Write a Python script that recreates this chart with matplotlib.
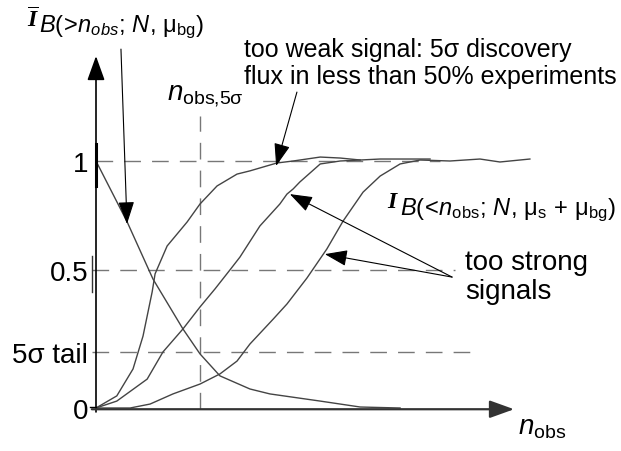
import numpy as np
import matplotlib
matplotlib.use('Agg')
import matplotlib.pyplot as plt

plt.rcParams['font.family'] = ['Liberation Sans', 'DejaVu Sans']
plt.rcParams['mathtext.fontset'] = 'custom'
plt.rcParams['mathtext.rm'] = 'Liberation Sans'
plt.rcParams['mathtext.it'] = 'Liberation Sans:italic'
plt.rcParams['mathtext.bf'] = 'Liberation Serif:bold:italic'

######
# schematic curves, x = n_obs (arb. units), y = probability (schematic scale)
bg_n = [0, 0.75, 1.37, 2.09, 2.5, 2.98, 3.70, 4.18, 5.39, 6.35, 7.31]
bg_p = [1.0, 0.753, 0.522, 0.320, 0.219, 0.130, 0.077, 0.057, 0.028, 0.004, 0.0]

sig1_n = [0, 0.50, 0.89, 1.13, 1.35, 1.42, 1.71, 2.19, 2.5, 2.91, 3.39, 3.70, 4.35, 4.74, 5.39, 5.87, 6.35]
sig1_p = [0, 0.049, 0.158, 0.291, 0.470, 0.543, 0.656, 0.753, 0.826, 0.899, 0.947, 0.960, 0.992, 1.0, 1.016, 1.012, 1.004]

sig2_n = [0, 0.50, 1.23, 1.61, 2.09, 2.5, 2.86, 3.22, 3.46, 3.94, 4.42, 4.59, 4.74, 4.90, 5.39, 5.87, 6.83, 8.03]
sig2_p = [0, 0.028, 0.117, 0.227, 0.320, 0.409, 0.482, 0.559, 0.611, 0.737, 0.826, 0.866, 0.887, 0.915, 0.988, 1.0, 1.008, 1.008]

sig3_n = [0, 0.82, 1.30, 1.85, 2.5, 2.98, 3.39, 3.70, 4.26, 4.59, 5.07, 5.55, 5.94, 6.42, 6.83, 7.31,
          7.79, 8.51, 9.23, 9.71, 9.95, 10.43]
sig3_p = [0, 0.0, 0.016, 0.057, 0.097, 0.138, 0.190, 0.259, 0.360, 0.421, 0.526, 0.644, 0.757, 0.874, 0.939, 0.988,
          1.004, 1.0, 1.008, 0.996, 1.0, 1.008]

y_tick_pos = [0, 0.227, 0.559, 1.0]
y_tick_labels = ['0', '5σ tail', '0.5', '1']
n_5sigma = 2.5

######
fig = plt.figure(figsize=(6.21, 4.52), dpi=100)
ax = fig.add_axes([0, 0, 1, 1])
ax.set_xlim(-96/41.6, (621-96)/41.6)
ax.set_ylim((409-452)/247., 409/247.)
ax.axis('off')

DASH = dict(color='#777777', lw=1.0, ls=(0, (12, 8)))
CURVE = dict(color='#444444', lw=1.0)

# dashed guide lines
ax.plot([0, 8.27], [1.0, 1.0], **DASH)
ax.plot([-0.1, 8.63], [y_tick_pos[2]]*2, **DASH)
ax.plot([-0.1, 9.04], [y_tick_pos[1]]*2, **DASH)
ax.plot([n_5sigma]*2, [-0.004, 1.182], **DASH)

# curves
ax.plot(bg_n, bg_p, **CURVE)
ax.plot(sig1_n, sig1_p, **CURVE)
ax.plot(sig2_n, sig2_p, **CURVE)
ax.plot(sig3_n, sig3_p, **CURVE)

# axes with arrows
AX_ARROW = dict(arrowstyle='-|>,head_length=0.75,head_width=0.27', color='black', lw=1.2,
                shrinkA=0, shrinkB=0, mutation_scale=20)
ax.annotate('', xy=(0, 1.425), xytext=(0, -0.016), arrowprops=AX_ARROW)
ax.annotate('', xy=(10.05, -0.005), xytext=(-0.1, -0.005),
            arrowprops=dict(AX_ARROW, color='#333333', lw=1.6))
# small tick stubs
ax.plot([-0.15, 0], [0.004, 0.004], color='black', lw=1.0)
ax.plot([-0.1, -0.1], [0.468, 0.470 + 0.145], color='#333333', lw=1.0)
ax.plot([0, 0], [0.90, 1.07], color='black', lw=2.2)

for p, lab in zip(y_tick_pos, y_tick_labels):
    ax.text(-0.19, p, lab, fontsize=20, ha='right', va='center_baseline')

# labels
ax.text(-1.66, 1.547, r'$\overline{\mathbf{I}}$', fontsize=17, ha='left', va='baseline')
ax.text(-1.37, 1.526, r'$B(\!>\!n_{obs};\,N,\,\mathrm{μ}_{\mathrm{bg}})$', fontsize=17,
        ha='left', va='baseline')

ax.text(6.99, 0.814, r'$\mathbf{I}$', fontsize=17, ha='left', va='baseline')
ax.text(7.31, 0.785, r'$B(\!<\!n_{\mathrm{obs}};\,N,\,\mathrm{μ}_{\mathrm{s}}\,+\,\mathrm{μ}_{\mathrm{bg}})$',
        fontsize=17, ha='left', va='baseline')

ax.text(1.71, 1.253, r'$n_{\mathrm{obs{,}5σ}}$', fontsize=20, ha='left', va='baseline')
ax.text(10.14, -0.105, r'$n_{\mathrm{obs}}$', fontsize=20, ha='left', va='baseline')

ax.text(3.56, 1.502, 'too weak signal: 5σ discovery\nflux in less than 50% experiments',
        fontsize=18, ha='left', va='top', linespacing=1.15)
ax.text(8.87, 0.644, 'too strong\nsignals', fontsize=20, ha='left', va='top', linespacing=1.15)

# annotation arrows
ARR = dict(arrowstyle='-|>,head_length=0.7,head_width=0.25', color='black', lw=0.8,
           shrinkA=0, shrinkB=0, mutation_scale=20)
ax.annotate('', xy=(0.745, 0.745), xytext=(0.60, 1.453), arrowprops=ARR)
ax.annotate('', xy=(4.33, 0.980), xytext=(4.83, 1.279), arrowprops=ARR)
ax.annotate('', xy=(4.66, 0.866), xytext=(8.56, 0.530), arrowprops=ARR)
ax.annotate('', xy=(5.50, 0.623), xytext=(8.56, 0.530), arrowprops=ARR)

plt.savefig('out.png', dpi=100)
plt.close()
